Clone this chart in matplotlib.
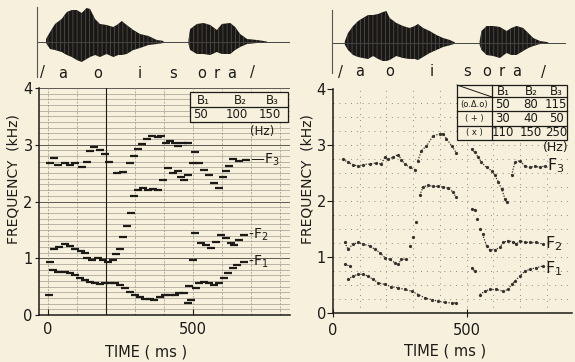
import numpy as np
import matplotlib.pyplot as plt
from matplotlib.lines import Line2D
from matplotlib.patches import Rectangle

nan = np.nan

# ---- left panel formant tracks (ms, kHz) ----
t1L = [6, 19, 37, 60, 77, 94, 111, 128, 145, 162, 180, 197, 214, 231, 248, 265, 283,
       300, 317, 334, 351, 368, 386, 403, 420, 437, 454, 471, 483, 494, 488, 500, 511,
       523, 540, 557, 574, 592, 606, 620, 637, 654, 677]
f1L = [0.35, 0.79, 0.76, 0.76, 0.74, 0.71, 0.65, 0.62, 0.59, 0.56, 0.55, 0.56, 0.57,
       0.56, 0.53, 0.47, 0.41, 0.35, 0.32, 0.29, 0.28, 0.26, 0.32, 0.35, 0.35, 0.35,
       0.38, 0.39, 0.21, 0.26, 0.51, 0.97, 0.47, 0.56, 0.59, 0.56, 0.53, 0.56, 0.65,
       0.74, 0.82, 0.88, 0.94]
t2L = [8, 22, 40, 60, 77, 94, 114, 130, 136, 152, 172, 190, 208, 225, 236, 249, 261,
       272, 287, 296, 311, 328, 345, 363, 380, 399, 414, 431, 448, 460, 471, 483, 506,
       529, 546, 563, 580, 597, 614, 631, 643, 660, 677]
f2L = [0.94, 1.17, 1.2, 1.25, 1.22, 1.17, 1.13, 1.09, 1.01, 0.97, 1.01, 0.97, 0.94,
       0.97, 1.08, 1.17, 1.38, 1.56, 1.8, 2.09, 2.2, 2.23, 2.2, 2.22, 2.2, 2.38, 2.59,
       2.5, 2.53, 2.44, 2.38, 2.47, 1.44, 1.26, 1.24, 1.18, 1.29, 1.41, 1.35, 1.26,
       1.24, 1.32, 1.41]
t3L = [8, 22, 37, 60, 77, 94, 117, 134, 146, 161, 180, 198, 211, 238, 261, 284, 298,
       310, 324, 341, 359, 381, 391, 408, 420, 437, 448, 466, 483, 500, 506, 523, 540,
       557, 574, 592, 603, 615, 626, 637, 660, 683]
f3L = [2.67, 2.76, 2.64, 2.67, 2.65, 2.67, 2.61, 2.69, 2.89, 2.96, 2.91, 2.84, 2.69,
       2.51, 2.52, 2.67, 2.81, 2.93, 3.02, 3.1, 3.16, 3.13, 3.15, 3.03, 3.06, 3.03,
       2.98, 3.03, 3.03, 2.68, 2.88, 2.68, 2.56, 2.47, 2.32, 2.24, 2.44, 2.53, 2.62,
       2.75, 2.72, 2.74]

# ---- right panel formant tracks (ms, kHz), nan = gap ----
t1R = [44, 62, nan, 56, 75, 94, 112, 131, 150, 169, 194, 219, 244, 269, 294, 319, 344,
       369, 394, 419, 444, 462, nan, 519, 531, nan, 550, 569, 587, 612, 637, 656, 669,
       681, 700, 719, 737, 762, 787]
f1R = [0.87, 0.84, nan, 0.6, 0.66, 0.69, 0.69, 0.66, 0.6, 0.54, 0.51, 0.47, 0.45, 0.42,
       0.39, 0.33, 0.27, 0.24, 0.21, 0.19, 0.18, 0.18, nan, 0.81, 0.75, nan, 0.33, 0.39,
       0.42, 0.42, 0.39, 0.42, 0.51, 0.57, 0.66, 0.75, 0.78, 0.81, 0.84]
t2R = [44, 56, 75, 94, 112, 137, 156, 175, 194, 212, 231, 244, 256, 275, nan, 287, nan,
       300, nan, 312, nan, 325, 337, 356, 375, 394, 412, 431, 450, 460, nan, 519, 531,
       nan, 540, nan, 550, nan, 560, 575, 587, 606, 625, 637, 656, 675, 687, 700, 719,
       737, 762, 787]
f2R = [1.26, 1.14, 1.23, 1.26, 1.23, 1.2, 1.14, 1.08, 0.99, 0.96, 0.9, 0.87, 0.96, 0.96,
       nan, 1.2, nan, 1.35, nan, 1.62, nan, 2.1, 2.25, 2.28, 2.26, 2.26, 2.25, 2.23,
       2.16, 2.07, nan, 1.86, 1.84, nan, 1.68, nan, 1.5, nan, 1.41, 1.2, 1.13, 1.13,
       1.17, 1.26, 1.29, 1.27, 1.23, 1.29, 1.26, 1.26, 1.26, 1.23]
t3R = [37, 56, 75, 94, 112, 137, 162, 181, 194, 206, 225, 244, 256, 269, 287, 306, nan,
       318, 331, 350, 374, 400, 412, 425, 444, 462, nan, 519, 531, 544, 556, 575, 594,
       606, 619, 631, 644, 650, nan, 669, 681, 700, 719, 737, 756, 775, 794]
f3R = [2.75, 2.69, 2.65, 2.62, 2.65, 2.66, 2.68, 2.66, 2.78, 2.75, 2.78, 2.83, 2.74,
       2.66, 2.6, 2.56, nan, 2.72, 2.9, 2.98, 3.16, 3.2, 3.2, 3.11, 2.99, 2.86, nan,
       2.93, 2.87, 2.78, 2.69, 2.6, 2.54, 2.46, 2.34, 2.22, 2.04, 1.98, nan, 2.46, 2.69,
       2.72, 2.62, 2.6, 2.62, 2.6, 2.63]

# ---- waveform envelopes (ms, amplitude up / down) ----
wtL1 = [-6, 8, 25, 48, 66, 83, 100, 117, 134, 146, 163, 180, 203, 226, 243, 255, 272,
        295, 318, 347, 376, 399]
upL1 = [3, 10, 18, 23, 30, 32, 32, 29, 34, 33, 23, 18, 17, 15, 18, 21, 17, 12, 8, 6, 2, 1]
loL1 = [1, 7, 8, 10, 13, 15, 18, 20, 17, 15, 13, 15, 12, 15, 13, 13, 12, 8, 6, 3, 2, 1]
wtL2 = [485, 491, 514, 537, 560, 583, 600, 629, 646, 663, 687, 721, 755]
upL2 = [2, 13, 18, 19, 17, 12, 18, 19, 15, 8, 3, 2, 0.5]
loL2 = [2, 8, 12, 12, 13, 10, 12, 12, 8, 5, 2, 1, 0.5]
wtR1 = [44, 56, 75, 94, 112, 131, 150, 169, 187, 200, 212, 237, 262, 287, 306, 318,
        337, 362, 387, 412, 437, 456]
upR1 = [1.7, 10, 17, 22, 25, 28, 28, 29, 31, 32, 25, 20, 17, 15, 17, 19, 15, 12, 8, 5, 3, 0.7]
loR1 = [1.7, 7, 12, 14, 15, 16, 13, 16, 18, 18, 17, 13, 15, 16, 16, 17, 14, 10, 7, 4, 2.3, 0.7]
wtR2 = [549, 556, 575, 600, 625, 650, 668, 687, 712, 731, 750, 775, 806]
upR2 = [2, 12, 17, 17, 16, 12, 15, 17, 15, 10, 5, 2, 0.7]
loR2 = [2, 7, 12, 13, 15, 10, 12, 12, 8, 5, 3, 1, 0.3]

phonemes = ['/', 'a', 'o', 'i', 's', 'o', 'r', 'a', '/']
phonL_x = [42, 63, 98, 140, 173, 202, 217, 232, 252]
phonR_x = [340, 360, 390, 432, 467, 487, 502, 517, 543]

tabL_head = ['B₁', 'B₂', 'B₃']
tabL_vals = ['50', '100', '150']
tabR_rows = ['(o.Δ.o)', '( + )', '( x )']
tabR_vals = [['50', '80', '115'], ['30', '40', '50'], ['110', '150', '250']]

paper = '#f6f0dc'
ink = '#1d1b18'
W, H = 575, 362


def fx(px):
    return px / W


def fy(py):
    return 1 - py / H


def box(l, t, r, b):
    return [fx(l), fy(b), fx(r) - fx(l), fy(t) - fy(b)]


def fline(x0, y0, x1, y1, lw=0.9):
    fig.add_artist(Line2D([fx(x0), fx(x1)], [fy(y0), fy(y1)], color=ink, lw=lw,
                          transform=fig.transFigure, zorder=6))


def ftext(x, y, s, size=8, ha='center'):
    fig.text(fx(x), fy(y), s, fontsize=size, ha=ha, va='center', color=ink, zorder=7)


plt.rcParams['font.family'] = 'DejaVu Sans'
plt.rcParams['hatch.linewidth'] = 0.5
fig = plt.figure(figsize=(5.75, 3.62), dpi=100, facecolor=paper)

# ---------------- waveforms ----------------
for pos, xl, yl, segs, base_end in [
        (box(37, 7, 290, 77), (-37, 835), (-35, 35),
         [(wtL1, upL1, loL1), (wtL2, upL2, loL2)], 835),
        (box(332, 10, 572, 73), (-4, 895), (-30, 33),
         [(wtR1, upR1, loR1), (wtR2, upR2, loR2)], 868)]:
    aw = fig.add_axes(pos)
    aw.set_xlim(*xl)
    aw.set_ylim(*yl)
    aw.patch.set_alpha(0)
    for s in ['top', 'right', 'bottom']:
        aw.spines[s].set_visible(False)
    aw.spines['left'].set_color('#555')
    aw.spines['left'].set_linewidth(0.8)
    aw.set_xticks([])
    aw.set_yticks([])
    aw.plot([xl[0], base_end], [0, 0], color='#444', lw=0.7)
    for t, up, lo in segs:
        aw.fill_between(t, up, -np.array(lo), facecolor='#1a1816',
                        edgecolor='#5a554e', hatch='||||', linewidth=0)

for px, ph in zip(phonL_x, phonemes):
    ftext(px, 73, ph, size=10.5)
for px, ph in zip(phonR_x, phonemes):
    ftext(px, 72, ph, size=10.5)

# ---------------- left spectrogram-style panel ----------------
axL = fig.add_axes(box(39, 88, 290, 315))
axL.set_facecolor(paper)
axL.set_xlim(-30, 835)
axL.set_ylim(0, 4)
for v in np.arange(0.1, 4.01, 0.1):
    strong = abs(v - round(v)) < 1e-6
    axL.axhline(v, color='#5e5a52' if strong else '#a29c90',
                lw=0.7 if strong else 0.5, zorder=1)
for v in range(0, 801, 100):
    if v == 200:
        axL.axvline(v, color=ink, lw=0.8, zorder=1)
    else:
        axL.axvline(v, color='#9a9488', lw=0.5, ls=(0, (3, 2)), zorder=1)
for t, f in [(t1L, f1L), (t2L, f2L), (t3L, f3L)]:
    axL.plot(t, f, ls='none', marker='_', ms=5.5, mew=1.6, color=ink, zorder=3)

axL.set_xticks([0, 500])
axL.set_yticks([0, 1, 2, 3, 4])
axL.tick_params(axis='x', direction='in', length=4, pad=5, labelsize=10.5, colors=ink)
axL.tick_params(axis='y', direction='out', length=3, pad=1.5, labelsize=10.5, colors=ink)
for s in ['top', 'right']:
    axL.spines[s].set_visible(False)
for s in ['left', 'bottom']:
    axL.spines[s].set_color(ink)
    axL.spines[s].set_linewidth(1.1)
axL.set_ylabel('FREQUENCY  (kHz)', fontsize=10, color=ink)
axL.yaxis.set_label_coords(-0.075, 0.6)
axL.set_xlabel('TIME ( ms )', fontsize=10.5, color=ink)
axL.xaxis.set_label_coords(0.426, -0.128)

axL.text(683, 2.74, ' —F$_3$', fontsize=10, va='center', color=ink)
axL.text(677, 1.41, ' -F$_2$', fontsize=10, va='center', color=ink)
axL.text(677, 0.94, ' -F$_1$', fontsize=10, va='center', color=ink)

# left table
fig.add_artist(Rectangle((fx(190), fy(122)), fx(288) - fx(190), fy(92) - fy(122),
                         facecolor=paper, edgecolor=ink, lw=0.9,
                         transform=fig.transFigure, zorder=5))
fline(190, 107, 288, 107)
for px, s in zip([203, 240, 272], tabL_head):
    ftext(px, 100, s, size=8.5)
for px, s in zip([200, 237, 270], tabL_vals):
    ftext(px, 115, s, size=8.5)
ftext(262, 131, '(Hz)', size=8.5)

# ---------------- right panel ----------------
axR = fig.add_axes(box(333, 89, 572, 313))
axR.set_facecolor(paper)
axR.set_xlim(0, 895)
axR.set_ylim(0, 4)
for v in np.arange(0.25, 4.0, 0.25):
    axR.axhline(v, color='#8f897c', lw=0.7, ls=(0, (1, 5)), zorder=1)
for v in range(100, 900, 100):
    axR.axvline(v, color='#8f897c', lw=0.7, ls=(0, (1, 5)), zorder=1)
for t, f in [(t1R, f1R), (t2R, f2R), (t3R, f3R)]:
    axR.plot(t, f, ls=(0, (1, 1.2)), lw=0.9, marker='.', ms=2.6, color='#35312c', zorder=3)

axR.set_xticks([0, 500])
axR.set_yticks([0, 1, 2, 3, 4])
axR.tick_params(axis='x', direction='inout', length=6, pad=4, labelsize=10.5, colors=ink)
axR.tick_params(axis='y', direction='out', length=4, pad=1, labelsize=10.5, colors=ink)
for s in ['top', 'right']:
    axR.spines[s].set_visible(False)
for s in ['left', 'bottom']:
    axR.spines[s].set_color(ink)
    axR.spines[s].set_linewidth(1.1)
axR.set_ylabel('FREQUENCY  (kHz)', fontsize=10, color=ink)
axR.yaxis.set_label_coords(-0.078, 0.6)
axR.set_xlabel('TIME ( ms )', fontsize=10.5, color=ink)
axR.xaxis.set_label_coords(0.469, -0.138)

axR.text(800, 2.63, 'F$_3$', fontsize=11.5, va='center', color=ink)
axR.text(795, 1.23, 'F$_2$', fontsize=11.5, va='center', color=ink)
axR.text(795, 0.80, 'F$_1$', fontsize=11.5, va='center', color=ink)

# right table
fig.add_artist(Rectangle((fx(457), fy(140)), fx(567) - fx(457), fy(85) - fy(140),
                         facecolor=paper, edgecolor=ink, lw=0.9,
                         transform=fig.transFigure, zorder=5))
for py in [97, 111, 126]:
    fline(457, py, 567, py)
fline(492, 85, 492, 140)
fline(457, 85, 492, 97, lw=0.7)
for px, s in zip([503, 531, 556], tabL_head):
    ftext(px, 91, s, size=8.5)
for i, (lab, vals) in enumerate(zip(tabR_rows, tabR_vals)):
    py = [104, 118.5, 133][i]
    ftext(474.5, py, lab, size=6)
    for px, s in zip([503, 531, 556], vals):
        ftext(px, py, s, size=8.5)
ftext(556, 147, '(Hz)', size=9)

fig.savefig('out.png', dpi=100, facecolor=paper)
